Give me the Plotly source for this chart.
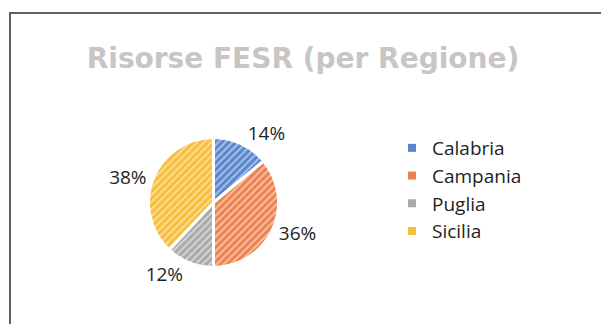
import plotly.graph_objects as go

# Quote FESR per regione (percentuali)
regioni = ["Calabria", "Campania", "Puglia", "Sicilia"]
quote = [14, 36, 12, 38]

colori = ["#5A86CC", "#EC8250", "#A9A9A9", "#F7BE3C"]
colori_righe = ["#A9C2EA", "#F8BFA2", "#D6D6D6", "#FCDD94"]

titolo = "Risorse FESR (per Regione)"

W, H = 601, 324

# pie placement in pixels: centre and radius
cx, cy, r = 213.5, 202.5, 65

fig = go.Figure()

fig.add_trace(go.Pie(
    labels=regioni,
    values=quote,
    sort=False,
    direction="clockwise",
    rotation=0,
    domain=dict(x=[(cx - r) / W, (cx + r) / W], y=[1 - (cy + r) / H, 1 - (cy - r) / H]),
    marker=dict(
        colors=colori,
        line=dict(color="white", width=3),
        pattern=dict(shape="/", size=5, solidity=0.4, fgcolor=colori_righe,
                     bgcolor=colori, fillmode="replace"),
    ),
    texttemplate="%{percent:.0%}",
    textposition="outside",
    outsidetextfont=dict(family="Open Sans", size=19, color="#1E1E1E"),
    showlegend=False,
    hoverinfo="label+percent",
))

# legend entries with small solid squares
for nome, col in zip(regioni, colori):
    fig.add_trace(go.Scatter(
        x=[None], y=[None], mode="markers", name=nome,
        marker=dict(symbol="square", size=8, color=col),
    ))

fig.update_layout(
    width=W, height=H,
    margin=dict(l=0, r=0, t=0, b=0),
    paper_bgcolor="white",
    plot_bgcolor="white",
    title=dict(
        text=titolo,
        x=303 / W, xanchor="center",
        y=1 - 58 / H, yanchor="middle",
        font=dict(family="DejaVu Sans", size=28, weight="bold", color="#C9C5C5"),
    ),
    xaxis=dict(visible=False),
    yaxis=dict(visible=False),
    legend=dict(
        x=392 / W, xanchor="left",
        y=1 - 129 / H, yanchor="top",
        font=dict(family="Open Sans", size=19, color="#1E1E1E"),
        tracegroupgap=0,
        bgcolor="rgba(0,0,0,0)",
    ),
    shapes=[dict(
        type="rect", xref="paper", yref="paper",
        x0=10 / W, x1=1.05, y0=-0.1, y1=1 - 13 / H,
        line=dict(color="#5F5F5F", width=2),
        fillcolor="rgba(0,0,0,0)",
        layer="above",
    )],
)

fig.write_html("out.html")
